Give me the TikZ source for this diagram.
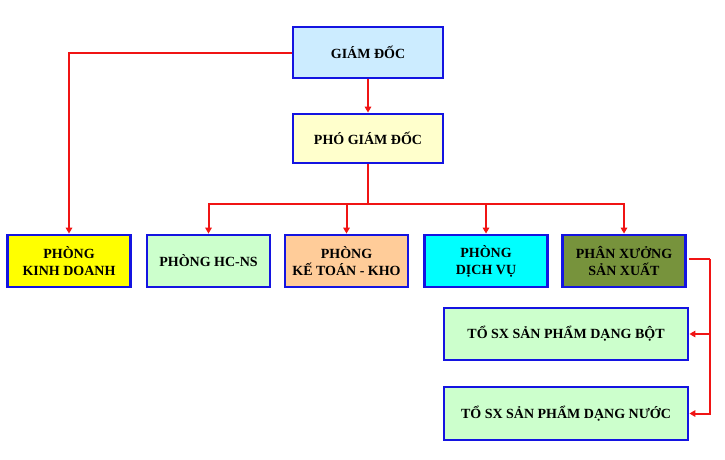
\documentclass[tikz,border=0pt]{standalone}
\usepackage{fontspec}
\setmainfont{Liberation Serif}
\usetikzlibrary{arrows.meta}
\definecolor{boxblue}{RGB}{20,20,225}
\definecolor{linkred}{RGB}{240,20,20}
\definecolor{gdfill}{RGB}{204,236,255}
\definecolor{pgdfill}{RGB}{255,255,204}
\definecolor{kdfill}{RGB}{255,255,0}
\definecolor{hcfill}{RGB}{204,255,204}
\definecolor{ktfill}{RGB}{255,204,153}
\definecolor{dvfill}{RGB}{0,255,255}
\definecolor{pxfill}{RGB}{119,147,60}
\begin{document}
\begin{tikzpicture}[x=1pt,y=-1pt,
  box/.style={draw=boxblue,line width=2.8pt,align=center,inner sep=0pt,
    font=\bfseries\fontsize{14}{17}\selectfont},
  link/.style={draw=linkred,line width=2pt},
  tip/.style={-{Triangle[length=6pt,width=6.5pt]}}]
\useasboundingbox (0,0) rectangle (725,459);
% top
\node[box,fill=gdfill,minimum width=150,minimum height=51] (gd) at (368,52.5) {GIÁM ĐỐC};
\node[box,fill=pgdfill,minimum width=150,minimum height=49] (pgd) at (368,138.5) {PHÓ GIÁM ĐỐC};
% departments
\foreach \name/\xc/\col/\txt in {kd/69/kdfill/{PHÒNG\\KINH DOANH},
  hc/208.5/hcfill/{PHÒNG HC-NS},
  kt/346.5/ktfill/{PHÒNG\\KẾ TOÁN - KHO},
  dv/486/dvfill/{PHÒNG\\DỊCH VỤ},
  px/624/pxfill/{PHÂN XƯỞNG\\SẢN XUẤT}}{
\node[box,fill=\col,minimum width=123,minimum height=52] (\name) at (\xc,261) {\txt};
}
% workshop teams
\node[box,fill=hcfill,minimum width=244,minimum height=52] (bot) at (566,334) {TỔ SX SẢN PHẨM DẠNG BỘT};
\node[box,fill=hcfill,minimum width=244,minimum height=53] (nuoc) at (566,413.5) {TỔ SX SẢN PHẨM DẠNG NƯỚC};
% links
\draw[link,tip] (gd.west) -| (kd.north);
\draw[link,tip] (gd.south) -- (pgd.north);
\draw[link] (pgd.south) -- ++(0,40) coordinate (split);
\foreach \name in {hc,kt,dv,px}
  \draw[link,tip] (split) -| (\name.north);
\coordinate (pxr) at (710,259);
\draw[link,shorten <=2pt] (px.east |- pxr) -- (pxr);
\draw[link,tip] (pxr) |- (bot.east);
\draw[link,tip] (pxr) |- (nuoc.east);
%\draw[step=10, thin] (0,0) grid (725,459);
\end{tikzpicture}
\end{document}
